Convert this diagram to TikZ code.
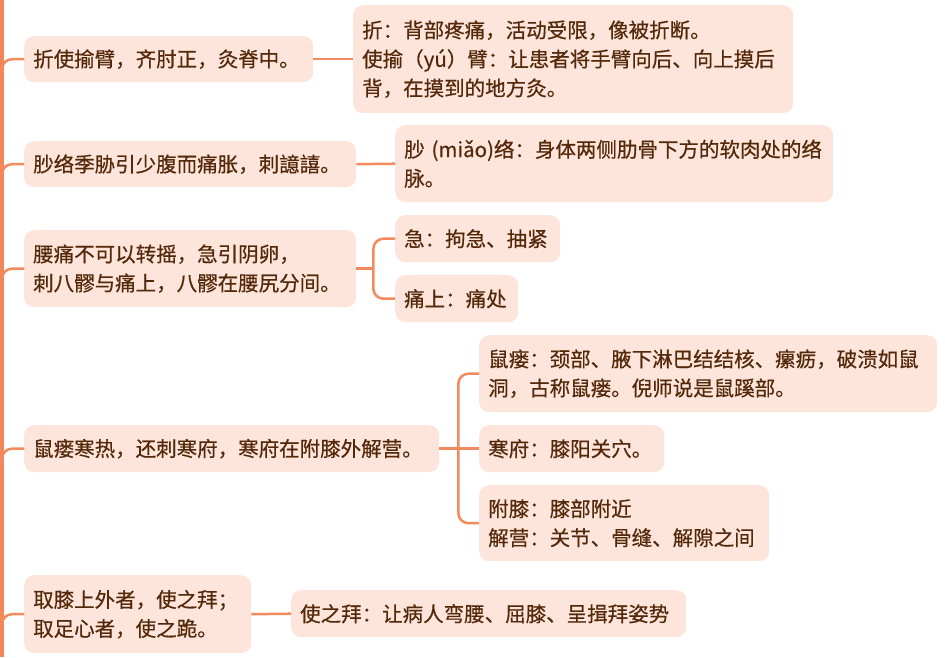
\documentclass[tikz,border=0pt]{standalone}
\usepackage{fontspec}
\newfontfamily\cjk[FakeBold=0.5]{Noto Sans CJK SC}
\usetikzlibrary{positioning, calc}
\definecolor{linkorange}{HTML}{F28A5E}
\definecolor{barorange}{HTML}{F4875A}
\definecolor{notefill}{HTML}{FDE5DB}
\definecolor{notetext}{HTML}{55280A}

\begin{document}
\begin{tikzpicture}[
    x=1pt, y=-1pt,
    font=\cjk\fontsize{20.5}{29}\selectfont,
    % ── shared styles ──
    note box/.style 2 args={fill=notefill, draw=none, rounded corners=10pt,
        text=notetext, align=left, anchor=north west,
        inner xsep=9pt, inner ysep=0pt, text width=#1, minimum height=#2},
    root bar/.style={draw=barorange, line width=4.5pt},
    branch/.style={draw=linkorange, line width=2.5pt, rounded corners=10pt},
]
\useasboundingbox (0,0) rectangle (945,657);

% ══════════════════════════════════════════════════════════════════════
%  DIMENSIONS — three columns of notes
% ══════════════════════════════════════════════════════════════════════
\def\colA{24}     % main sentences
\def\colB{395}    % notes, second column
\def\colC{479}    % notes beside the long sentence
\def\barX{2}

% ══════════════════════════════════════════════════════════════════════
%  MAIN SENTENCES
% ══════════════════════════════════════════════════════════════════════
\node[note box={271pt}{46pt}] (a1) at (\colA,36) {折使揄臂，齐肘正，灸脊中。};
\node[note box={314pt}{46pt}] (b1) at (\colA,141) {䏚络季胁引少腹而痛胀，刺譩譆。};
\node[note box={314pt}{77pt}] (c1) at (\colA,230)
    {腰痛不可以转摇，急引阴卵，\\刺八髎与痛上，八髎在腰尻分间。};
\node[note box={397pt}{47pt}] (d1) at (\colA,425) {鼠瘘寒热，还刺寒府，寒府在附膝外解营。};
\node[note box={209pt}{78pt}] (e1) at (\colA,575)
    {取膝上外者，使之拜；\\取足心者，使之跪。};

% ══════════════════════════════════════════════════════════════════════
%  NOTES
% ══════════════════════════════════════════════════════════════════════
\node[note box={422pt}{108pt}] (a2) at (353,5)
    {折：背部疼痛，活动受限，像被折断。\\使揄（yú）臂：让患者将手臂向后、向上摸后\\背，在摸到的地方灸。};
\node[note box={420pt}{77pt}] (b2) at (\colB,125)
    {䏚 (miǎo)络：身体两侧肋骨下方的软肉处的络\\脉。};
\node[note box={147pt}{47pt}] (c2a) at (\colB,215) {急：拘急、抽紧};
\node[note box={105pt}{47pt}] (c2b) at (\colB,275) {痛上：痛处};
\node[note box={440pt}{77pt}] (d2a) at (\colC,335)
    {鼠瘘：颈部、腋下淋巴结结核、瘰疬，破溃如鼠\\洞，古称鼠瘘。倪师说是鼠蹊部。};
\node[note box={167pt}{47pt}] (d2b) at (\colC,425) {寒府：膝阳关穴。};
\node[note box={272pt}{76pt}] (d2c) at (\colC,485)
    {附膝：膝部附近\\解营：关节、骨缝、解隙之间};
\node[note box={377pt}{47pt}] (e2) at (291,590) {使之拜：让病人弯腰、屈膝、呈揖拜姿势};

% ══════════════════════════════════════════════════════════════════════
%  ROOT BAR + BRANCHES
% ══════════════════════════════════════════════════════════════════════
\coordinate (rootT) at (\barX,0);
\coordinate (rootB) at (\barX,657);
\draw[root bar] (rootT) -- (rootB);
\foreach \n in {a1,b1,c1,d1,e1}
  \draw[branch] ([yshift=-14pt]\n.west -| rootT) |- (\n.west);

% ══════════════════════════════════════════════════════════════════════
%  CONNECTORS to the notes
% ══════════════════════════════════════════════════════════════════════
\draw[branch] (a1.east) -- (a1.east -| a2.west);
\draw[branch] (b1.east) -- (b2.west);
\coordinate[right=17pt of c1.east] (cfork);
\draw[branch] (c1.east) -- (cfork);
\draw[branch] (c2a.west) -| (cfork) |- (c2b.west);
\coordinate[right=19pt of d1.east] (dfork);
\draw[branch] (d1.east) -- (d2b.west);
\draw[branch] (d2a.west) -| (dfork) |- (d2c.west);
\draw[branch] (e1.east) -- (e2.west);

\end{tikzpicture}
\end{document}
